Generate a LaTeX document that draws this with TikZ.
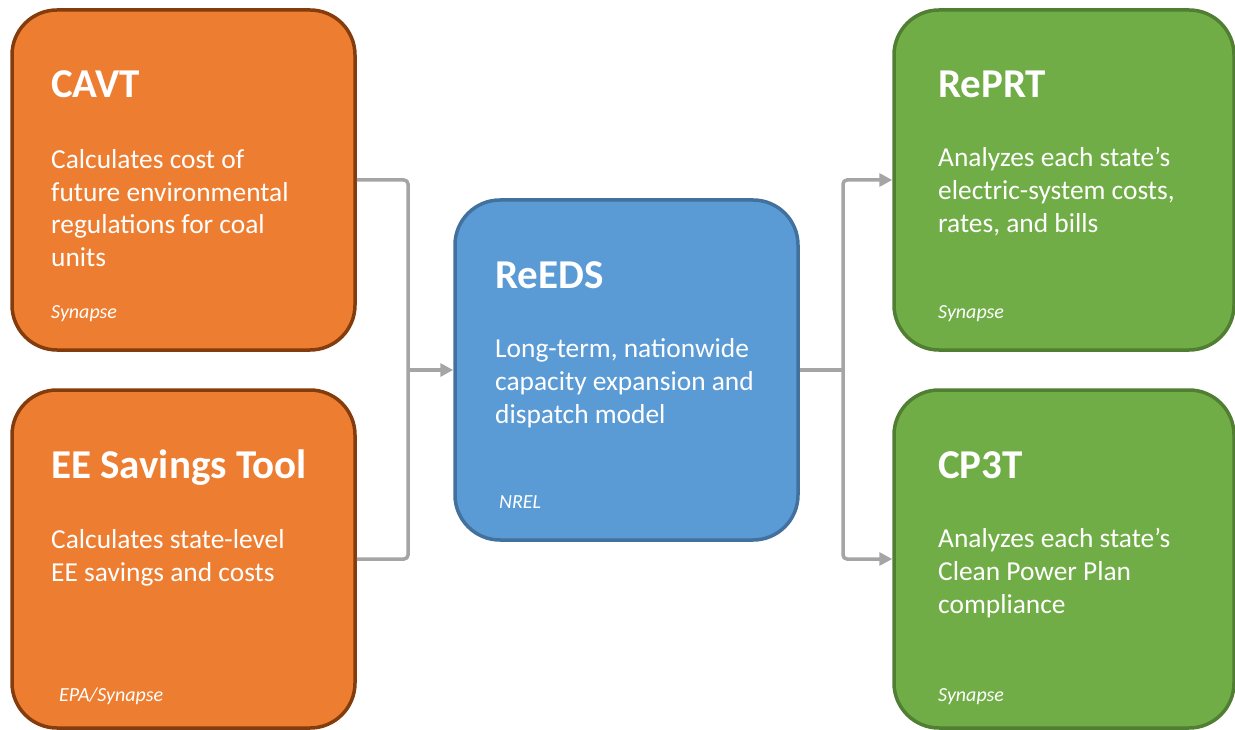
\documentclass[tikz,border=0pt]{standalone}
\usepackage{fontspec}
\setmainfont{Carlito}
\usetikzlibrary{arrows.meta}
\definecolor{orfill}{HTML}{ED7D31}
\definecolor{ordraw}{HTML}{843C0C}
\definecolor{blfill}{HTML}{5B9BD5}
\definecolor{bldraw}{HTML}{41719C}
\definecolor{grfill}{HTML}{70AD47}
\definecolor{grdraw}{HTML}{507E32}
\definecolor{conncol}{HTML}{A5A5A5}
\tikzset{
  box/.style={rectangle, rounded corners=45pt, line width=3.5pt, minimum width=343pt, minimum height=340pt, inner sep=0pt},
  orbox/.style={box, fill=orfill, draw=ordraw},
  blbox/.style={box, fill=blfill, draw=bldraw},
  grbox/.style={box, fill=grfill, draw=grdraw},
  title/.style={anchor=base west, inner sep=0pt, text=white, font=\fontsize{41}{48}\selectfont\bfseries},
  body/.style={anchor=base west, inner sep=0pt, text=white, align=left, font=\fontsize{27.4}{33}\selectfont},
  src/.style={anchor=base west, inner sep=0pt, text=white, font=\fontsize{20}{24}\selectfont\itshape},
  conn/.style={draw=conncol, line width=3.5pt, rounded corners=4pt},
  arr/.style={conn, -{Triangle[length=13pt,width=13pt]}}
}
\begin{document}
\begin{tikzpicture}[x=1pt,y=-1pt]
\useasboundingbox (0,0) rectangle (1235,730);
% boxes
\node[orbox] (cavt) at (183.5,180) {};
\node[orbox, minimum height=338pt] (ee) at (183.5,559) {};
\node[blbox] (reeds) at (626.5,370) {};
\node[grbox, minimum width=340pt] (reprt) at (1064,180) {};
\node[grbox, minimum width=340pt, minimum height=338pt] (cp3t) at (1064,559) {};
% texts (body nodes anchored at the baseline of their last line)
\node[title] (cavtT) at (51,98) {CAVT};
\node[body] (cavtB) at (51,267) {Calculates cost of\\future environmental\\regulations for coal\\units};
\node[src] (cavtS) at (51,318) {Synapse};
\node[title] (eeT) at (51,478) {EE Savings Tool};
\node[body] (eeB) at (51,581) {Calculates state-level\\EE savings and costs};
\node[src] (eeS) at (59,701) {EPA/Synapse};
\node[title] (reedsT) at (495,288) {ReEDS};
\node[body] (reedsB) at (495,423) {Long-term, nationwide\\capacity expansion and\\dispatch model};
\node[src] (reedsS) at (499,508) {NREL};
\node[title] (reprtT) at (938,98) {RePRT};
\node[body] (reprtB) at (938,233) {Analyzes each state’s\\electric-system costs,\\rates, and bills};
\node[src] (reprtS) at (938,318) {Synapse};
\node[title] (cp3tT) at (938,478) {CP3T};
\node[body] (cp3tB) at (938,613) {Analyzes each state’s\\Clean Power Plan\\compliance};
\node[src] (cp3tS) at (938,701) {Synapse};
% connectors
\coordinate (jl) at (408,370);
\coordinate (jr) at (843,370);
\draw[conn] (cavt.east) -| (jl) |- (ee.east);
\draw[arr] (jl) -- (reeds.west);
\draw[conn] (reeds.east) -- (jr);
\draw[arr] (jr) |- (reprt.west);
\draw[arr] (jr) |- (cp3t.west);
\end{tikzpicture}
\end{document}
